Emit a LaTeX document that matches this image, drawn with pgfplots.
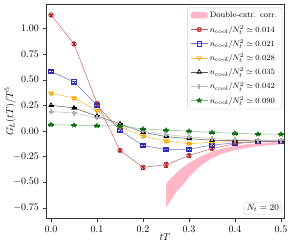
\documentclass[border=0pt]{standalone}
\usepackage{pgfplots}
\pgfplotsset{compat=1.18}
\usetikzlibrary{plotmarks}
\definecolor{cred}{HTML}{B22222}
\definecolor{cblue}{HTML}{2E2EB8}
\definecolor{corange}{HTML}{FFA500}
\definecolor{cgray}{HTML}{B0B0B0}
\definecolor{cgreen}{HTML}{107010}
\definecolor{cpink}{HTML}{FFB6C6}
\pgfdeclareplotmark{fstar}{%
  \pgfpathmoveto{\pgfpointpolar{90}{\pgfplotmarksize}}%
  \pgfpathlineto{\pgfpointpolar{126}{0.45\pgfplotmarksize}}%
  \pgfpathlineto{\pgfpointpolar{162}{\pgfplotmarksize}}%
  \pgfpathlineto{\pgfpointpolar{198}{0.45\pgfplotmarksize}}%
  \pgfpathlineto{\pgfpointpolar{234}{\pgfplotmarksize}}%
  \pgfpathlineto{\pgfpointpolar{270}{0.45\pgfplotmarksize}}%
  \pgfpathlineto{\pgfpointpolar{306}{\pgfplotmarksize}}%
  \pgfpathlineto{\pgfpointpolar{342}{0.45\pgfplotmarksize}}%
  \pgfpathlineto{\pgfpointpolar{18}{\pgfplotmarksize}}%
  \pgfpathlineto{\pgfpointpolar{54}{0.45\pgfplotmarksize}}%
  \pgfpathclose\pgfusepathqfillstroke}
\pgfplotstableread{
x     r       re     b      be     o      oe     k      ke     g      ge     gr     gre
0.00  1.133   0.012  0.580  0.010  0.368  0.008  0.250  0.006  0.190  0.005  0.062  0.004
0.05  0.850   0.012  0.480  0.010  0.322  0.008  0.225  0.006  0.175  0.005  0.057  0.004
0.10  0.270   0.012  0.250  0.010  0.200  0.008  0.145  0.006  0.130  0.005  0.052  0.004
0.15  -0.190  0.012  0.005  0.010  0.040  0.008  0.070  0.006  0.055  0.005  0.048  0.004
0.20  -0.355  0.015  -0.142 0.010  -0.050 0.008  -0.012 0.006  0.000  0.005  0.020  0.004
0.25  -0.330  0.022  -0.182 0.010  -0.098 0.010  -0.055 0.008  -0.035 0.006  0.008  0.004
0.30  -0.240  0.012  -0.178 0.008  -0.125 0.008  -0.075 0.006  -0.058 0.005  -0.002 0.004
0.35  -0.172  0.010  -0.138 0.008  -0.110 0.006  -0.090 0.005  -0.075 0.005  -0.014 0.004
0.40  -0.125  0.008  -0.116 0.006  -0.100 0.006  -0.095 0.005  -0.085 0.005  -0.023 0.004
0.45  -0.105  0.008  -0.102 0.006  -0.098 0.006  -0.096 0.005  -0.090 0.005  -0.030 0.004
0.50  -0.100  0.008  -0.100 0.006  -0.097 0.006  -0.096 0.005  -0.090 0.005  -0.032 0.004
}\datatab
\begin{document}
\begin{tikzpicture}
\path[use as bounding box] (-46pt,-29.3pt) rectangle (245pt,218.7pt);
\begin{axis}[
  scale only axis, width=238pt, height=214.7pt,
  xmin=-0.0109, xmax=0.5065, ymin=-0.857, ymax=1.24,
  xtick={0,0.1,0.2,0.3,0.4,0.5},
  ytick={-0.75,-0.5,-0.25,0,0.25,0.5,0.75,1},
  xticklabel style={/pgf/number format/.cd, fixed, fixed zerofill, precision=1},
  yticklabel style={/pgf/number format/.cd, fixed, fixed zerofill, precision=2},
  tick align=outside, xtick pos=bottom, ytick pos=left,
  axis line style={draw=black!80},
  tick style={black!80},
  major tick length=3.5pt,
  xlabel={$tT$}, ylabel={$G_L(tT)/T^5$},
  xlabel style={at={(axis description cs:0.5,-0.085)}, anchor=center},
  ylabel style={at={(axis description cs:-0.15,0.5)}, anchor=center},
  legend cell align=left,
  legend style={at={(axis description cs:0.993,0.983)}, anchor=north east,
    font=\footnotesize, draw=black!20, rounded corners=2pt, row sep=2pt,
    inner ysep=2.5pt},
  every axis plot/.append style={line width=0.5pt},
]
\addplot[fill=cpink, draw=none, area legend,
  legend image code/.code={\fill[cpink] (0cm,-0.09cm) rectangle (0.6cm,0.13cm);}] coordinates {
 (0.25,-0.52) (0.26,-0.465) (0.275,-0.40) (0.29,-0.345) (0.30,-0.312) (0.325,-0.248) (0.35,-0.202)
 (0.375,-0.170) (0.40,-0.147) (0.425,-0.131) (0.45,-0.120) (0.475,-0.112) (0.50,-0.106)
 (0.50,-0.130) (0.475,-0.139) (0.45,-0.150) (0.425,-0.165) (0.40,-0.186) (0.375,-0.218)
 (0.35,-0.265) (0.325,-0.34) (0.30,-0.45) (0.29,-0.51) (0.275,-0.58) (0.26,-0.68) (0.25,-0.75)
};
\addlegendentry{Double-extr. corr.}
\addplot[color=cred!70, mark=otimes, mark size=2.3pt, mark options={draw=cred, fill=white, solid, line width=0.6pt},
  error bars/.cd, y dir=both, y explicit, error bar style={cred, line width=0.6pt}] table[x=x, y=r, y error=re] {\datatab};
\addlegendentry{$n_{\rm cool}/N_t^2 \simeq 0.014$}
\addplot[color=cblue!70, mark=square, mark size=2.2pt, mark options={draw=cblue, solid, line width=0.7pt},
  error bars/.cd, y dir=both, y explicit, error bar style={cblue, line width=0.6pt}] table[x=x, y=b, y error=be] {\datatab};
\addlegendentry{$n_{\rm cool}/N_t^2 \simeq 0.021$}
\addplot[color=corange!80, mark=triangle, mark size=2.5pt, mark options={draw=corange, solid, rotate=180, line width=0.7pt},
  error bars/.cd, y dir=both, y explicit, error bar style={corange, line width=0.6pt}] table[x=x, y=o, y error=oe] {\datatab};
\addlegendentry{$n_{\rm cool}/N_t^2 \simeq 0.028$}
\addplot[color=black!65, mark=triangle, mark size=2.5pt, mark options={draw=black, solid, line width=0.7pt},
  error bars/.cd, y dir=both, y explicit, error bar style={black, line width=0.6pt}] table[x=x, y=k, y error=ke] {\datatab};
\addlegendentry{$n_{\rm cool}/N_t^2 \simeq 0.035$}
\addplot[color=cgray!80, mark=+, mark size=2.5pt, mark options={draw=cgray, solid, line width=1.4pt},
  error bars/.cd, y dir=both, y explicit, error bar style={cgray, line width=0.6pt}] table[x=x, y=g, y error=ge] {\datatab};
\addlegendentry{$n_{\rm cool}/N_t^2 \simeq 0.042$}
\addplot[color=cgreen!50, mark=fstar, mark size=2.6pt, mark options={draw=cgreen, fill=cgreen, solid, line width=0.4pt},
  error bars/.cd, y dir=both, y explicit, error bar style={cgreen, line width=0.6pt}] table[x=x, y=gr, y error=gre] {\datatab};
\addlegendentry{$n_{\rm cool}/N_t^2 \simeq 0.090$}
\node[anchor=south east, draw=black!20, rounded corners=2pt, fill=white, inner sep=2.5pt, font=\small]
  at (axis description cs:0.99,0.02) {$N_t = 20$};
\end{axis}
\end{tikzpicture}
\end{document}
